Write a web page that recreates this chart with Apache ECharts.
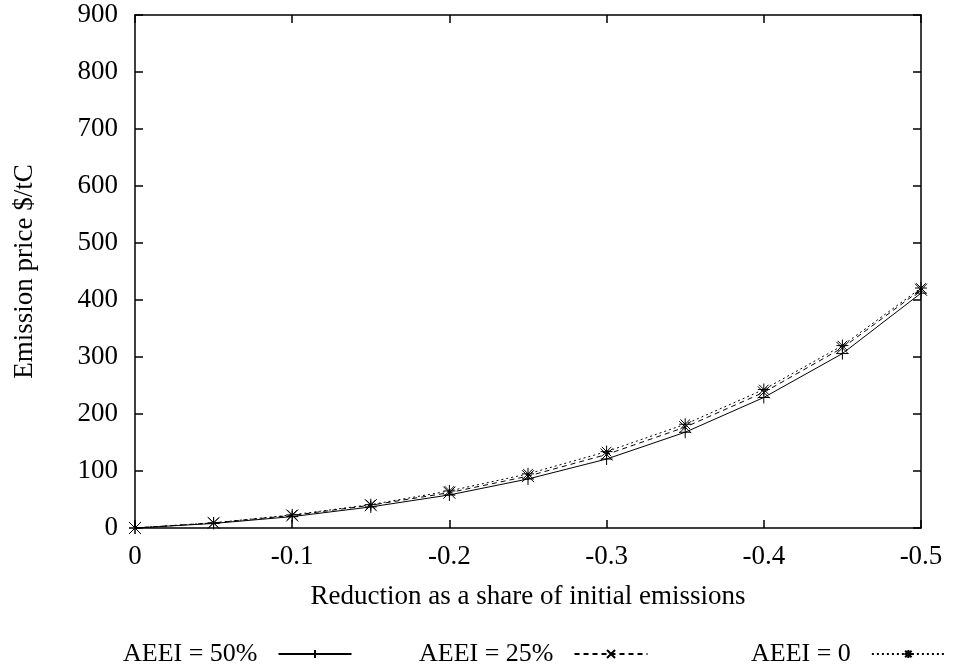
<!DOCTYPE html>
<html>
<head>
<meta charset="utf-8">
<script src="https://cdn.jsdelivr.net/npm/echarts@6/dist/echarts.min.js"></script>
<style>html,body{margin:0;padding:0;background:#fff;}#c{width:955px;height:666px;}</style>
</head>
<body>
<div id="c"></div>
<script>
var reductions = [0, -0.05, -0.1, -0.15, -0.2, -0.25, -0.3, -0.35, -0.4, -0.45, -0.5];
var aeei50 = [0, 8, 20, 37, 58, 86, 121, 168, 229, 306, 412];
var aeei25 = [0, 9, 22, 40, 62, 91, 129, 177, 238, 316, 418];
var aeei0  = [0, 9, 23, 41, 65, 95, 134, 182, 243, 320, 421];
var seriesNames = ['AEEI = 50%', 'AEEI = 25%', 'AEEI = 0'];

var FONT = 'Liberation Serif';
var FS = 27;
var LFS = 26;
function pairs(vals){ return reductions.map(function(x,i){ return [x, vals[i]]; }); }

var plusPath = 'path://M5,0L5,10M0,5L10,5';
var crossPath = 'path://M0,0L10,10M0,10L10,0';
var starPath = 'path://M5,0L5,10M0,5L10,5M1,1L9,9M1,9L9,1';

function mkSeries(name, vals, sym, dash){
  return {
    name: name, type: 'line', data: pairs(vals),
    xAxisIndex: 0, yAxisIndex: 0,
    symbol: sym, symbolSize: 12, showAllSymbol: true,
    lineStyle: {color: '#000', width: 1, type: dash},
    itemStyle: {color: 'rgba(0,0,0,0)', borderColor: '#000', borderWidth: 1},
    emphasis: {disabled: true}, animation: false
  };
}

function axisCommon(){
  return {
    axisLine: {show: true, onZero: false, lineStyle: {color: '#000', width: 1.5}},
    axisTick: {show: true, inside: true, length: 8, lineStyle: {color: '#000', width: 1.5}},
    splitLine: {show: false}
  };
}

function legendFor(i, left){
  return {data: [seriesNames[i]], left: left, top: 636, align: 'right', itemWidth: 73, itemHeight: 10,
    textStyle: {fontFamily: FONT, fontSize: LFS, color: '#000', padding: [0, 16, 0, 0]}, selectedMode: false};
}

var chart = echarts.init(document.getElementById('c'), null, {renderer: 'canvas'});
chart.setOption({
  backgroundColor: '#fff',
  animation: false,
  textStyle: {fontFamily: FONT, color: '#000'},
  grid: {left: 135, right: 34, top: 15, bottom: 138, outerBoundsMode: 'none', containLabel: false},
  xAxis: [
    Object.assign({
      type: 'value', position: 'bottom', min: -0.5, max: 0, interval: 0.1, inverse: true,
      name: 'Reduction as a share of initial emissions', nameLocation: 'middle', nameGap: 55,
      nameTextStyle: {fontFamily: FONT, fontSize: FS, color: '#000'},
      axisLabel: {fontFamily: FONT, fontSize: FS, color: '#000', margin: 15,
        formatter: function(v){ var r = Math.round(v*10)/10; return r === 0 ? '0' : String(r); }}
    }, axisCommon()),
    Object.assign({
      type: 'value', position: 'top', min: -0.5, max: 0, interval: 0.1, inverse: true,
      axisLabel: {show: false}
    }, axisCommon())
  ],
  yAxis: [
    Object.assign({
      type: 'value', position: 'left', min: 0, max: 900, interval: 100,
      name: 'Emission price $/tC', nameLocation: 'middle', nameGap: 97, nameRotate: 90,
      nameTextStyle: {fontFamily: FONT, fontSize: FS, color: '#000'},
      axisLabel: {fontFamily: FONT, fontSize: FS, color: '#000', margin: 17}
    }, axisCommon()),
    Object.assign({
      type: 'value', position: 'right', min: 0, max: 900, interval: 100,
      axisLabel: {show: false}
    }, axisCommon())
  ],
  legend: [legendFor(0, 118), legendFor(1, 414), legendFor(2, 746)],
  series: [
    mkSeries(seriesNames[0], aeei50, plusPath, 'solid'),
    mkSeries(seriesNames[1], aeei25, crossPath, [5,4]),
    mkSeries(seriesNames[2], aeei0, starPath, [2,3])
  ]
});
</script>
</body>
</html>
